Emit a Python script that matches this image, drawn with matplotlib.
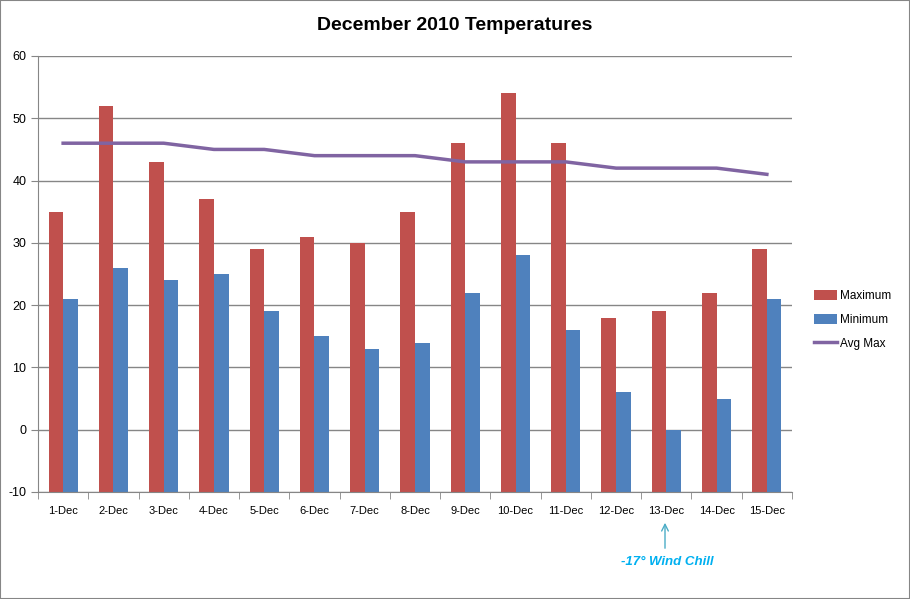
import numpy as np
import matplotlib
matplotlib.use('Agg')
import matplotlib.pyplot as plt
from matplotlib.patches import Rectangle, FancyArrowPatch

# Input Data
days = ['1-Dec', '2-Dec', '3-Dec', '4-Dec', '5-Dec', '6-Dec', '7-Dec', '8-Dec',
        '9-Dec', '10-Dec', '11-Dec', '12-Dec', '13-Dec', '14-Dec', '15-Dec']
maximum = [35, 52, 43, 37, 29, 31, 30, 35, 46, 54, 46, 18, 19, 22, 29]
minimum = [21, 26, 24, 25, 19, 15, 13, 14, 22, 28, 16, 6, 0, 5, 21]
avg_max = [46, 46, 46, 45, 45, 44, 44, 44, 43, 43, 43, 42, 42, 42, 41]

plt.rcParams['font.family'] = ['Liberation Sans', 'DejaVu Sans']
plt.rcParams['axes.unicode_minus'] = False

fig = plt.figure(figsize=(9.1, 5.99), dpi=100)
ax = fig.add_axes([38 / 910, 1 - 492 / 599, (792 - 38) / 910, (492 - 56) / 599])

x = np.arange(len(days))
w = 0.29
base = -10
b1 = ax.bar(x - w / 2, np.array(maximum) - base, w, bottom=base, color='#C0504D', label='Maximum', zorder=2)
b2 = ax.bar(x + w / 2, np.array(minimum) - base, w, bottom=base, color='#4F81BD', label='Minimum', zorder=2)
l1, = ax.plot(x, avg_max, color='#8064A2', lw=2.5, label='Avg Max', zorder=3)

ax.set_xlim(-0.5, len(days) - 0.5)
ax.set_ylim(-10, 60)
ax.set_yticks(range(-10, 61, 10))
ax.yaxis.grid(True, color='#868686', lw=1)
ax.set_axisbelow(True)
for s in ['top', 'right']:
    ax.spines[s].set_visible(False)
ax.spines['left'].set_color('#868686')
ax.spines['bottom'].set_color('#868686')

ax.set_xticks(x)
ax.set_xticklabels(days)
ax.set_xticks(np.arange(-0.5, len(days)), minor=True)
ax.tick_params(axis='x', which='major', length=0, pad=10, labelsize=8)
ax.tick_params(axis='x', which='minor', length=5, color='#868686')
ax.tick_params(axis='y', length=5, color='#868686', labelsize=9)

fig.text(455 / 910, 1 - 26 / 599, 'December 2010 Temperatures', ha='center', va='center',
         fontsize=14, fontweight='bold')

ax.legend([b1, b2, l1], ['Maximum', 'Minimum', 'Avg Max'],
          loc='center left', bbox_to_anchor=(803 / 910, 1 - 320 / 599), bbox_transform=fig.transFigure,
          frameon=False, fontsize=8.5, handlelength=2.0, handleheight=0.9,
          labelspacing=1.0, handletextpad=0.2)

# Annotation under 13-Dec
fig.patches.append(FancyArrowPatch(
    (665 / 910, 1 - 551 / 599), (665 / 910, 1 - 520 / 599), transform=fig.transFigure,
    arrowstyle='->', mutation_scale=12, color='#4BACC6', lw=1))
fig.text(667 / 910, 1 - 562 / 599, '-17° Wind Chill', ha='center', va='center', color='#00B0F0',
         fontsize=9.5, fontweight='bold', style='italic')

fig.patches.append(Rectangle((0, 0), 1, 1, transform=fig.transFigure, fill=False,
                             edgecolor='#868686', lw=1.5))

fig.savefig('out.png', dpi=100)
